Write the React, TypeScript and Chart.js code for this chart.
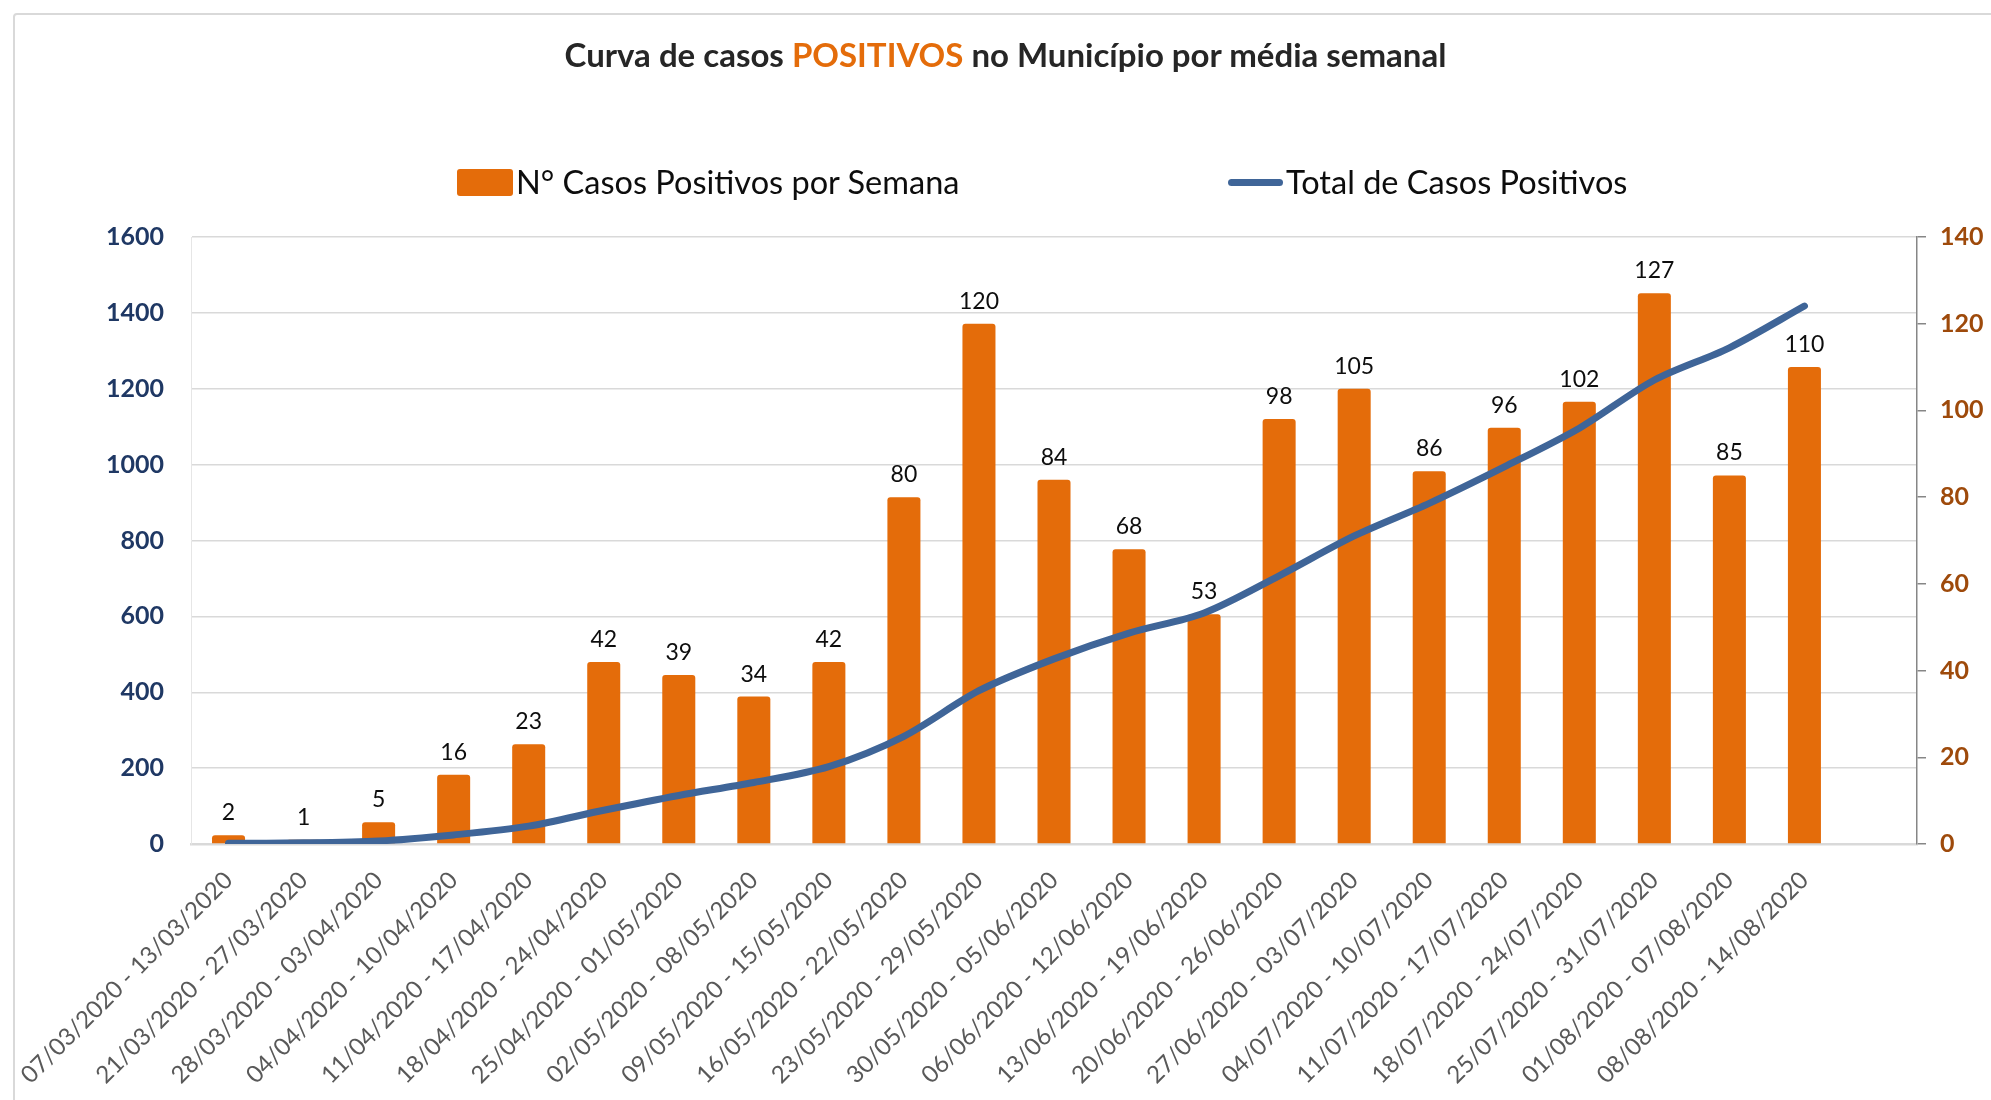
import React, { useEffect, useRef } from 'react';
import { Chart, registerables } from 'chart.js';

Chart.register(...registerables);

const weekLabels = [
  '07/03/2020 - 13/03/2020',
  '21/03/2020 - 27/03/2020',
  '28/03/2020 - 03/04/2020',
  '04/04/2020 - 10/04/2020',
  '11/04/2020 - 17/04/2020',
  '18/04/2020 - 24/04/2020',
  '25/04/2020 - 01/05/2020',
  '02/05/2020 - 08/05/2020',
  '09/05/2020 - 15/05/2020',
  '16/05/2020 - 22/05/2020',
  '23/05/2020 - 29/05/2020',
  '30/05/2020 - 05/06/2020',
  '06/06/2020 - 12/06/2020',
  '13/06/2020 - 19/06/2020',
  '20/06/2020 - 26/06/2020',
  '27/06/2020 - 03/07/2020',
  '04/07/2020 - 10/07/2020',
  '11/07/2020 - 17/07/2020',
  '18/07/2020 - 24/07/2020',
  '25/07/2020 - 31/07/2020',
  '01/08/2020 - 07/08/2020',
  '08/08/2020 - 14/08/2020',
];

const weeklyCases = [2, 1, 5, 16, 23, 42, 39, 34, 42, 80, 120, 84, 68, 53, 98, 105, 86, 96, 102, 127, 85, 110];

const totalCases = [2, 3, 8, 24, 47, 89, 128, 162, 204, 284, 404, 488, 556, 609, 707, 812, 898, 994, 1096, 1223, 1308, 1418];

const leftAxisMax = 1600;
const leftAxisStep = 200;
const rightAxisMax = 140;
const rightAxisStep = 20;

const ORANGE = '#E46C0A';
const BLUE = '#3F6598';

const barLabelsPlugin = {
  id: 'barLabels',
  afterDatasetsDraw(chart: any) {
    const ctx = chart.ctx;
    const meta = chart.getDatasetMeta(0);
    ctx.save();
    ctx.font = '23px Lato';
    ctx.fillStyle = '#0d0d0d';
    ctx.textAlign = 'center';
    ctx.textBaseline = 'alphabetic';
    meta.data.forEach((el: any, i: number) => {
      const v = weeklyCases[i];
      if (v == null) return;
      ctx.fillText(String(v), el.x, el.y - 15);
    });
    ctx.restore();
  },
};

export default function App() {
  const canvasRef = useRef<HTMLCanvasElement | null>(null);

  useEffect(() => {
    document.body.style.margin = '0';
    document.body.style.overflow = 'hidden';
    const canvas = canvasRef.current;
    if (!canvas) return;
    const chart = new Chart(canvas, {
      type: 'bar',
      data: {
        labels: [...weekLabels, ''],
        datasets: [
          {
            type: 'bar',
            label: 'N° Casos Positivos por Semana',
            data: weeklyCases,
            backgroundColor: ORANGE,
            borderRadius: 3,
            barPercentage: 0.44,
            categoryPercentage: 1,
            yAxisID: 'y1',
            order: 2,
          } as any,
          {
            type: 'line',
            label: 'Total de Casos Positivos',
            data: totalCases,
            borderColor: BLUE,
            backgroundColor: BLUE,
            borderWidth: 7,
            borderCapStyle: 'round',
            borderJoinStyle: 'round',
            pointRadius: 0,
            tension: 0.3,
            yAxisID: 'y',
            order: 1,
          } as any,
        ],
      },
      options: {
        responsive: false,
        animation: false,
        devicePixelRatio: 1,
        layout: { padding: { top: 237, left: 0, right: 0, bottom: 0 } },
        plugins: {
          legend: { display: false },
          title: { display: false },
          tooltip: { enabled: false },
        },
        scales: {
          x: {
            offset: true,
            grid: { display: false, drawTicks: false },
            border: { display: true, color: '#d9d9d9', width: 2.5 },
            ticks: {
              autoSkip: false,
              minRotation: 45,
              maxRotation: 45,
              padding: 22,
              color: '#595959',
              font: { family: 'Lato', size: 24 },
            },
            afterFit(scale: any) {
              scale.height = 256;
              scale.paddingLeft = 0;
              scale.paddingRight = 0;
            },
          },
          y: {
            position: 'left',
            min: 0,
            max: leftAxisMax,
            ticks: {
              stepSize: leftAxisStep,
              padding: 27,
              color: '#1F3864',
              font: { family: 'Lato', size: 25, weight: 'bold' },
              callback: (v: any) => String(v),
            },
            grid: { color: '#d9d9d9', lineWidth: 1.5, drawTicks: false },
            border: { display: true, color: '#e6e6e6', width: 1 },
            afterFit(scale: any) {
              scale.width = 191;
              scale.paddingTop = 0;
              scale.paddingBottom = 0;
            },
          },
          y1: {
            position: 'right',
            min: 0,
            max: rightAxisMax,
            ticks: {
              stepSize: rightAxisStep,
              padding: 14,
              color: '#9E4A0B',
              font: { family: 'Lato', size: 25, weight: 'bold' },
              callback: (v: any) => String(v),
            },
            grid: {
              drawOnChartArea: false,
              drawTicks: true,
              tickLength: 9,
              color: '#868686',
              lineWidth: 1.5,
            },
            border: { display: true, color: '#868686', width: 1.5 },
            afterFit(scale: any) {
              scale.width = 74;
              scale.paddingTop = 0;
              scale.paddingBottom = 0;
            },
          },
        },
      } as any,
      plugins: [barLabelsPlugin],
    });
    return () => chart.destroy();
  }, []);

  return (
    <div
      style={{
        position: 'relative',
        width: 1991,
        height: 1100,
        overflow: 'hidden',
        background: '#ffffff',
        fontFamily: 'Lato, sans-serif',
      }}
    >
      <div
        style={{
          position: 'absolute',
          left: 13,
          top: 13,
          width: 2000,
          height: 1200,
          border: '2px solid #d9d9d9',
          borderRadius: 4,
        }}
      />
      <canvas
        ref={canvasRef}
        width={1991}
        height={1100}
        style={{ position: 'absolute', left: 0, top: 0, width: 1991, height: 1100 }}
      />
      <div
        style={{
          position: 'absolute',
          left: 0,
          top: 35,
          width: 2011,
          textAlign: 'center',
          fontSize: 33,
          lineHeight: '38px',
          fontWeight: 'bold',
          color: '#262626',
          whiteSpace: 'nowrap',
        }}
      >
        Curva de casos <span style={{ color: ORANGE }}>POSITIVOS</span> no Município por média semanal
      </div>
      <div
        style={{
          position: 'absolute',
          left: 457,
          top: 163,
          display: 'flex',
          alignItems: 'center',
          height: 38,
          fontSize: 32.5,
          lineHeight: '38px',
          color: '#0d0d0d',
          whiteSpace: 'nowrap',
        }}
      >
        <span
          style={{
            display: 'inline-block',
            width: 56,
            height: 27,
            background: ORANGE,
            borderRadius: 3,
            marginRight: 3,
          }}
        />
        <span>N° Casos Positivos por Semana</span>
      </div>
      <div
        style={{
          position: 'absolute',
          left: 1228,
          top: 163,
          display: 'flex',
          alignItems: 'center',
          height: 38,
          fontSize: 32.5,
          lineHeight: '38px',
          color: '#0d0d0d',
          whiteSpace: 'nowrap',
        }}
      >
        <span
          style={{
            display: 'inline-block',
            width: 55,
            height: 7,
            background: BLUE,
            borderRadius: 4,
            marginRight: 3,
          }}
        />
        <span>Total de Casos Positivos</span>
      </div>
    </div>
  );
}
